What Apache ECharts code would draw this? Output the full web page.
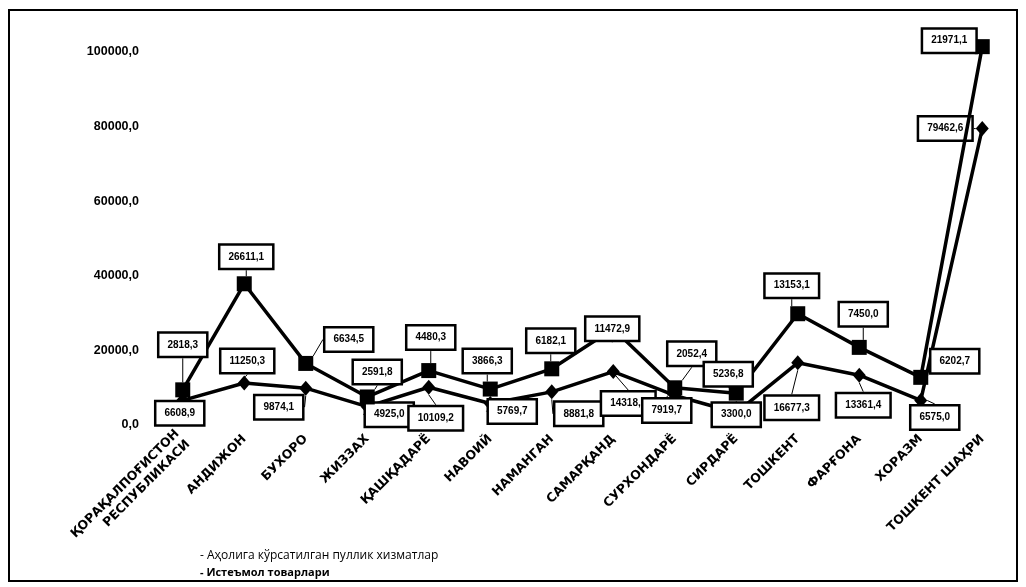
<!DOCTYPE html>
<html>
<head>
<meta charset="utf-8">
<script src="https://cdn.jsdelivr.net/npm/echarts@6/dist/echarts.min.js"></script>
<style>
html,body{margin:0;padding:0;background:#fff;}
#chart{width:1026px;height:587px;}
</style>
</head>
<body>
<div id="chart"></div>
<script>
const categories = [
  "ҚОРАҚАЛПОҒИСТОН\nРЕСПУБЛИКАСИ", "АНДИЖОН", "БУХОРО", "ЖИЗЗАХ", "ҚАШҚАДАРЁ", "НАВОИЙ",
  "НАМАНГАН", "САМАРҚАНД", "СУРХОНДАРЁ", "СИРДАРЁ", "ТОШКЕНТ", "ФАРҒОНА", "ХОРАЗМ", "ТОШКЕНТ ШАҲРИ"
];
const seriesNames = ["Аҳолига кўрсатилган пуллик хизматлар", "Истеъмол товарлари"];
const servicesValues = [6608.9, 11250.3, 9874.1, 4925.0, 10109.2, 5769.7, 8881.8, 14318.5, 7919.7, 3300.0, 16677.3, 13361.4, 6575.0, 79462.6];
const goodsValues = [2818.3, 26611.1, 6634.5, 2591.8, 4480.3, 3866.3, 6182.1, 11472.9, 2052.4, 5236.8, 13153.1, 7450.0, 6202.7, 21971.1];
const yTicks = { min: 0, max: 100000, interval: 20000 };

// label placement (layout only)
const lowerLabelShift = [[-3,13],[3,-22],[-27,19],[22,8],[7,31],[22,8],[27,22],[15,32],[-8,15],[0,2],[-6,45],[4,30],[14,17],[-37,0]];
const upperLabelShift = [[0,-45],[2,-27],[43,-24],[10,-25],[2,-33],[-3,-28],[-1,-28],[-1,0],[17,-34],[-8,-19],[-6,-28],[4,-33],[34,-16],[-33,-6]];

const fmt = v => Number(v).toFixed(1).replace('.', ',');

const chart = echarts.init(document.getElementById('chart'));
const labelStyle = {
  show: true,
  position: 'inside',
  formatter: p => fmt(p.value),
  color: '#000',
  fontFamily: 'Liberation Sans',
  fontWeight: 'bold',
  fontSize: 10,
  backgroundColor: '#fff',
  borderColor: '#000',
  borderWidth: 2.5,
  padding: [6, 8]
};
chart.setOption({
  animation: false,
  backgroundColor: '#fff',
  graphic: [{
    type: 'rect', shape: { x: 9, y: 10, width: 1008, height: 571 },
    style: { fill: 'none', stroke: '#000', lineWidth: 2 }, z: -1
  }],
  legend: {
    orient: 'vertical', left: 190, top: 545, itemGap: 5,
    icon: 'none', itemWidth: 0, itemHeight: 0,
    data: seriesNames,
    formatter: name => name === seriesNames[0] ? '{a|- ' + name + '}' : '{b|- ' + name + '}',
    textStyle: {
      rich: {
        a: { fontFamily: 'Open Sans', fontSize: 12, color: '#000' },
        b: { fontFamily: 'Open Sans', fontSize: 11, fontWeight: 'bold', color: '#000' }
      }
    }
  },
  grid: { left: 152, right: 13, top: 52, bottom: 162, containLabel: false },
  xAxis: {
    type: 'category', data: categories, boundaryGap: true,
    axisLine: { show: false }, axisTick: { show: false },
    axisLabel: {
      rotate: 45, interval: 0, margin: 12, color: '#000',
      fontFamily: 'DejaVu Sans', fontWeight: 'bold', fontSize: 12.5, lineHeight: 15
    }
  },
  yAxis: {
    type: 'value', min: yTicks.min, max: yTicks.max, interval: yTicks.interval,
    splitLine: { show: false }, axisLine: { show: false }, axisTick: { show: false },
    axisLabel: {
      margin: 13, color: '#000', fontFamily: 'Liberation Sans', fontWeight: 'bold', fontSize: 12.5,
      formatter: v => fmt(v)
    }
  },
  series: [
    {
      name: seriesNames[0], type: 'line', stack: 'total', data: servicesValues,
      clip: false, symbol: 'diamond', symbolSize: [13, 15],
      lineStyle: { color: '#000', width: 3.5 }, itemStyle: { color: '#000' },
      label: labelStyle,
      labelLine: { show: true, lineStyle: { color: '#000', width: 1 } },
      labelLayout: p => ({ dx: lowerLabelShift[p.dataIndex][0], dy: lowerLabelShift[p.dataIndex][1] }),
      z: 3
    },
    {
      name: seriesNames[1], type: 'line', stack: 'total', data: goodsValues,
      clip: false, symbol: 'rect', symbolSize: 15,
      lineStyle: { color: '#000', width: 3.5 }, itemStyle: { color: '#000' },
      label: labelStyle,
      labelLine: { show: true, lineStyle: { color: '#000', width: 1 } },
      labelLayout: p => ({ dx: upperLabelShift[p.dataIndex][0], dy: upperLabelShift[p.dataIndex][1] }),
      z: 4
    }
  ]
});
</script>
</body>
</html>
